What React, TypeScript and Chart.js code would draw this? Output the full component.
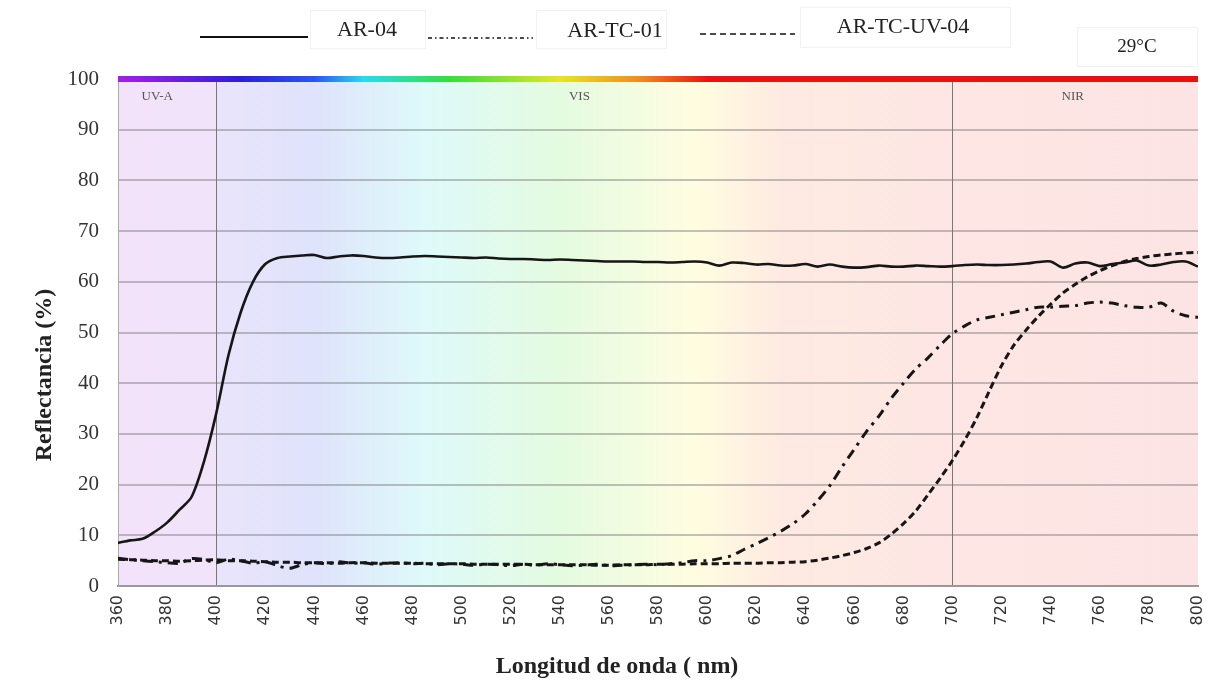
import React, { useEffect, useRef } from "react";
import { Chart, registerables } from "chart.js";

Chart.register(...registerables);

const wavelengths = [
  360, 365, 370, 375, 380, 385, 390, 395, 400, 405, 410, 415, 420, 425, 430, 435, 440, 445, 450, 455,
  460, 465, 470, 475, 480, 485, 490, 495, 500, 505, 510, 515, 520, 525, 530, 535, 540, 545, 550, 555,
  560, 565, 570, 575, 580, 585, 590, 595, 600, 605, 610, 615, 620, 625, 630, 635, 640, 645, 650, 655,
  660, 665, 670, 675, 680, 685, 690, 695, 700, 705, 710, 715, 720, 725, 730, 735, 740, 745, 750, 755,
  760, 765, 770, 775, 780, 785, 790, 795, 800,
];

const ar04 = [
  8.5, 9.0, 9.3, 10.7, 12.5, 15.0, 17.6, 24.5, 34.0, 45.5, 54.0, 60.0, 63.5, 64.7, 65.0, 65.2, 65.3, 64.7, 65.0, 65.2,
  65.1, 64.8, 64.7, 64.8, 65.0, 65.1, 65.0, 64.9, 64.8, 64.7, 64.8, 64.6, 64.5, 64.5, 64.4, 64.3, 64.4, 64.3, 64.2, 64.1,
  64.0, 64.0, 64.0, 63.9, 63.9, 63.8, 63.9, 64.0, 63.8, 63.2, 63.8, 63.7, 63.4, 63.5, 63.2, 63.2, 63.5, 63.0, 63.4, 63.0,
  62.8, 62.9, 63.2, 63.0, 63.0, 63.2, 63.1, 63.0, 63.1, 63.3, 63.4, 63.3, 63.3, 63.4, 63.6, 63.9, 64.0, 62.8, 63.6, 63.8,
  63.1, 63.5, 63.8, 64.2, 63.2, 63.4, 63.9, 64.0, 63.0,
];

const arTc01 = [
  5.5, 5.2, 5.0, 4.8, 4.6, 4.5, 5.4, 5.2, 4.6, 5.3, 5.0, 4.5, 4.8, 4.0, 3.5, 4.2, 4.6, 4.4, 4.8, 4.5,
  4.6, 4.3, 4.5, 4.6, 4.4, 4.5, 4.2, 4.4, 4.3, 4.1, 4.3, 4.2, 4.0, 4.3, 4.1, 4.4, 4.2, 4.0, 4.1, 4.3,
  4.0, 4.1, 4.2, 4.3, 4.2, 4.4, 4.6, 5.0, 5.0, 5.4, 6.0, 7.2, 8.3, 9.5, 10.8, 12.3, 14.2, 16.8, 19.8, 23.5,
  27.0, 30.5, 33.5, 37.0, 40.0, 42.8, 45.0, 47.5, 49.8, 51.3, 52.5, 53.0, 53.5, 54.0, 54.5, 55.0, 55.0, 55.2, 55.3, 55.8,
  56.0, 55.8, 55.3, 55.0, 55.0, 55.8, 54.2, 53.3, 53.0,
];

const arTcUv04 = [
  5.3, 5.2, 5.1, 5.0, 5.0, 4.9, 5.0, 5.1, 5.2, 5.0, 5.0, 4.9, 4.8, 4.7, 4.7, 4.6, 4.6, 4.6, 4.5, 4.6,
  4.6, 4.5, 4.5, 4.5, 4.5, 4.4, 4.4, 4.4, 4.4, 4.3, 4.3, 4.3, 4.3, 4.3, 4.2, 4.2, 4.2, 4.2, 4.2, 4.1,
  4.1, 4.2, 4.2, 4.2, 4.3, 4.3, 4.3, 4.4, 4.4, 4.4, 4.5, 4.5, 4.5, 4.6, 4.6, 4.7, 4.8, 5.1, 5.5, 6.0,
  6.6, 7.4, 8.5, 10.2, 12.3, 14.8, 18.0, 21.3, 24.8, 28.8, 33.3, 38.5, 43.5, 47.5, 50.5, 53.2, 55.6, 57.8, 59.5, 61.0,
  62.2, 63.2, 64.0, 64.6, 65.0, 65.3, 65.5, 65.7, 65.8,
];

const seriesNames = ["AR-04", "AR-TC-01", "AR-TC-UV-04"];
const temperatureLabel = "29°C";
const xTitle = "Longitud de onda ( nm)";
const yTitle = "Reflectancia (%)";
const regionLabels = ["UV-A", "VIS", "NIR"];
const regionLabelPositions = [376, 548, 749];
const regionBoundaries = [400, 700];

// background tint stops (nm, colour)
const bgStops: [number, string][] = [
  [360, "#f3e3fa"],
  [400, "#f0e3fa"],
  [401, "#e9e4fb"],
  [440, "#dfe3fb"],
  [485, "#defafa"],
  [540, "#e4fbe0"],
  [595, "#fffde0"],
  [630, "#feeae2"],
  [700, "#fde6e4"],
  [800, "#fde4e4"],
];

// spectrum bar stops (nm, colour)
const spectrumStops: [number, string][] = [
  [360, "#a41ee6"],
  [410, "#2d1fd8"],
  [440, "#2a55f0"],
  [460, "#26dcf0"],
  [495, "#33e03a"],
  [540, "#e6e625"],
  [573, "#f28a1e"],
  [600, "#e81414"],
  [800, "#e81010"],
];

const FONT_SERIF = "'Liberation Serif', 'Times New Roman', serif";

function App() {
  const canvasRef = useRef<HTMLCanvasElement | null>(null);

  useEffect(() => {
    if (!canvasRef.current) return;

    const toPoints = (ys: number[]) => wavelengths.map((x, i) => ({ x, y: ys[i] }));

    const backgroundPlugin = {
      id: "spectrumBackground",
      beforeDraw(chart: any) {
        const { ctx, chartArea } = chart;
        const xs = chart.scales.x;
        const x0 = xs.getPixelForValue(360);
        const x1 = xs.getPixelForValue(800);
        const g = ctx.createLinearGradient(x0, 0, x1, 0);
        bgStops.forEach(([nm, c]) => g.addColorStop((nm - 360) / 440, c));
        ctx.save();
        ctx.fillStyle = g;
        ctx.fillRect(chartArea.left, chartArea.top, chartArea.right - chartArea.left, chartArea.bottom - chartArea.top);
        ctx.restore();
      },
      afterDatasetsDraw(chart: any) {
        const { ctx, chartArea } = chart;
        const xs = chart.scales.x;
        const ys = chart.scales.y;
        const x0 = xs.getPixelForValue(360);
        const x1 = xs.getPixelForValue(800);
        const yTop = ys.getPixelForValue(100);
        const g = ctx.createLinearGradient(x0, 0, x1, 0);
        spectrumStops.forEach(([nm, c]) => g.addColorStop((nm - 360) / 440, c));
        ctx.save();
        ctx.fillStyle = g;
        ctx.fillRect(x0, yTop - 3, x1 - x0, 6);
        // region labels
        ctx.fillStyle = "#555";
        ctx.font = `13px ${FONT_SERIF}`;
        ctx.textAlign = "center";
        ctx.textBaseline = "middle";
        regionLabels.forEach((t, i) => {
          ctx.fillText(t, xs.getPixelForValue(regionLabelPositions[i]), chartArea.top + 18);
        });
        ctx.restore();
      },
      afterDraw(chart: any) {
        const { ctx } = chart;
        ctx.save();
        // faint boxes
        ctx.strokeStyle = "#f2f2f2";
        ctx.lineWidth = 1;
        ctx.strokeRect(310.5, 10.5, 115, 38);
        ctx.strokeRect(536.5, 10.5, 130, 38);
        ctx.strokeRect(800.5, 7.5, 210, 40);
        ctx.strokeRect(1077.5, 27.5, 120, 39);
        // line samples
        const samples = [
          { x0: 200, x1: 308, y: 37, dash: [] as number[], w: 2 },
          { x0: 428, x1: 533, y: 38, dash: [4, 3, 1.5, 3], w: 1.6 },
          { x0: 700, x1: 795, y: 34, dash: [6, 4], w: 1.6 },
        ];
        ctx.strokeStyle = "#111";
        samples.forEach((s) => {
          ctx.beginPath();
          ctx.setLineDash(s.dash);
          ctx.lineWidth = s.w;
          ctx.moveTo(s.x0, s.y);
          ctx.lineTo(s.x1, s.y);
          ctx.stroke();
        });
        ctx.setLineDash([]);
        ctx.fillStyle = "#222";
        ctx.font = `22px ${FONT_SERIF}`;
        ctx.textAlign = "center";
        ctx.textBaseline = "middle";
        ctx.fillText(seriesNames[0], 367, 30);
        ctx.fillText(seriesNames[1], 615, 31);
        ctx.fillText(seriesNames[2], 903, 27);
        ctx.font = `19px ${FONT_SERIF}`;
        ctx.fillText(temperatureLabel, 1137, 47);

        // axis titles
        ctx.fillStyle = "#222";
        ctx.font = `bold 24px ${FONT_SERIF}`;
        ctx.fillText(xTitle, 617, 667);
        ctx.translate(45, 375);
        ctx.rotate(-Math.PI / 2);
        ctx.fillText(yTitle, 0, 0);
        ctx.restore();
      },
    };

    const chart = new Chart(canvasRef.current, {
      type: "line",
      data: {
        datasets: [
          {
            label: seriesNames[0],
            data: toPoints(ar04),
            borderColor: "#161616",
            borderWidth: 2.6,
            pointRadius: 0,
            tension: 0.3,
            fill: false,
          },
          {
            label: seriesNames[1],
            data: toPoints(arTc01),
            borderColor: "#161616",
            borderWidth: 3,
            borderDash: [10, 6, 3, 6],
            pointRadius: 0,
            tension: 0.3,
            fill: false,
          },
          {
            label: seriesNames[2],
            data: toPoints(arTcUv04),
            borderColor: "#161616",
            borderWidth: 3,
            borderDash: [7, 4],
            pointRadius: 0,
            tension: 0.3,
            fill: false,
          },
        ],
      },
      options: {
        animation: false,
        responsive: true,
        maintainAspectRatio: false,
        layout: { padding: { top: 79, right: 24, left: 0, bottom: 0 } },
        plugins: {
          legend: { display: false },
          tooltip: { enabled: false },
        },
        scales: {
          x: {
            type: "linear",
            min: 360,
            max: 800,
            afterFit: (s: any) => {
              s.height = 95;
              s.paddingRight = 0;
              s.paddingLeft = 0;
            },
            ticks: {
              stepSize: 20,
              autoSkip: false,
              minRotation: 90,
              maxRotation: 90,
              padding: 9,
              color: "#333",
              font: { family: "'DejaVu Sans', sans-serif", size: 16 },
            },
            grid: {
              drawTicks: false,
              lineWidth: 1,
              color: (ctx: any) =>
                ctx.tick && regionBoundaries.includes(ctx.tick.value) ? "rgba(80,80,80,0.75)" : "rgba(0,0,0,0)",
            },
            border: { display: true, color: "#999", width: 2 },
            title: { display: false },
          },
          y: {
            min: 0,
            max: 100,
            afterFit: (s: any) => {
              s.width = 118;
            },
            ticks: {
              stepSize: 10,
              padding: 19,
              color: "#333",
              font: { family: FONT_SERIF, size: 21 },
            },
            grid: {
              drawTicks: false,
              lineWidth: 2,
              color: "rgba(120,120,120,0.45)",
            },
            border: { display: true, color: "#aaa", width: 1 },
            title: { display: false },
          },
        },
      },
      plugins: [backgroundPlugin],
    } as any);

    return () => chart.destroy();
  }, []);

  return (
    <div style={{ position: "absolute", left: 0, top: 0, width: 1222, height: 681, background: "#fff" }}>
      <canvas ref={canvasRef} />
    </div>
  );
}

export default App;
